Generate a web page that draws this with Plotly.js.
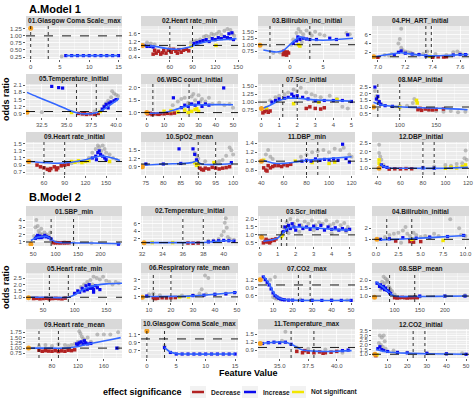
<!DOCTYPE html>
<html><head><meta charset="utf-8">
<script src="https://cdn.plot.ly/plotly-3.0.1.min.js"></script>
<style>html,body{margin:0;padding:0;background:#fff}#chart{width:474px;height:399px}</style>
</head><body><div id="chart"></div>
<script>
// ---------------- DATA ----------------
const panelTitles = [
  "01.Glasgow Coma Scale_max","02.Heart rate_min","03.Bilirubin_inc_initial","04.PH_ART_initial",
  "05.Temperature_initial","06.WBC count_initial","07.Scr_initial","08.MAP_initial",
  "09.Heart rate_initial","10.SpO2_mean","11.DBP_min","12.DBP_initial",
  "01.SBP_min","02.Temperature_initial","03.Scr_initial","04.Billrubin_initial",
  "05.Heart rate_min","06.Respiratory rate_mean","07.CO2_max","08.SBP_mean",
  "09.Heart rate_mean","10.Glasgow Coma Scale_max","11.Temperature_max","12.CO2_initial"
];
const xTickLabels = [
  ["0","5","10","15"],["60","90","120","150"],["0","5"],["7.0","7.2","7.4","7.6"],
  ["32.5","35.0","37.5","40.0"],["0","10","20","30","40","50"],["0","1","2","3","4","5"],["100","150"],
  ["60","90","120","150"],["75","80","85","90","95","100"],["40","60","80","100","120"],["40","60","80","100","120"],
  ["50","100","150","200","250"],["32","34","36","38","40"],["0","1","2","3","4","5"],["0.0","2.5","5.0","7.5","10.0"],
  ["50","100","150"],["10","20","30","40","50"],["10","20","30","40","50"],["100","150","200","250"],
  ["80","120","160"],["0","5","10","15"],["35.0","37.5","40.0"],["10","20","30","40","50"]
];
const yTickLabels = [
  ["0.25","0.50","0.75","1.00","1.25"],["0.4","0.8","1.2","1.6"],["0.75","1.00","1.25","1.50"],["2","4","6"],
  ["0.9","1.2","1.5","1.8","2.1"],["1.0","1.5","2.0"],["0.75","1.00","1.25","1.50"],["0.5","1.0","1.5","2.0","2.5"],
  ["0.7","0.9","1.1","1.3","1.5"],["0.9","1.2","1.5"],["0.8","1.0","1.2","1.4"],["1.0","1.5","2.0","2.5"],
  ["1","2","3","4"],["2","4","6"],["0.5","1.0","1.5","2.0"],["1","2"],
  ["1.0","1.5","2.0","2.5"],["1","2","3"],["0.6","0.9","1.2"],["1.0","1.5","2.0"],
  ["0.75","1.00","1.25","1.50","1.75"],["0.7","0.9","1.1"],["0.9","1.2","1.5"],["1.0","1.5","2.0","2.5","3.0","3.5"]
];
const xRanges = [
  [-0.8,15.6],[22,150],[-4.8,9.8],[6.957,7.665],
  [30.9,40.6],[-3.4,52.9],[-0.17,5.2],[62,195],
  [34,173],[73.6,101.4],[37,123],[34.7,121],
  [34,248],[31.9,41.4],[-0.1,5.3],[-0.45,10.4],
  [23,175],[6.4,50.5],[2.3,52],[55,248],
  [40,188],[-1,15.5],[33.1,41.6],[2,51.5]
];
const yRanges = [
  [0.18,1.35],[0.3,2.0],[0.45,1.72],[0.5,7.9],
  [0.77,2.15],[0.82,2.16],[0.53,1.57],[0.25,2.73],
  [0.62,1.55],[0.6,1.8],[0.69,1.43],[0.6,2.56],
  [0.45,4.55],[0.1,8.1],[0.3,2.19],[0.4,3.1],
  [0.63,2.9],[0.4,3.8],[0.36,1.45],[0.63,2.44],
  [0.53,1.91],[0.52,1.25],[0.6,1.7],[0.6,3.7]
];
const thresholds = [
  [0,3],[60,90],[-3,3],[7.35,7.39],
  [36,38],[3.5,24.5],[1.2,2.0],[70,100],
  [60,90],[90,95],[80,90],[80,90],
  [90,140],[36,38],[1.2,1.5],[1.2,4],
  [60,90],[12,20],[23,29],[90,140],
  [60,90],[0,3],[36,38],[23,29]
];

// G = raw points (grey), D = decrease, I = increase, N = not significant, S = smooth fit, M = missing-value point
const p01G=[[5.3,0.27]], p01D=[], p01I=[[6,0.3],[7,0.3],[8,0.3],[9,0.3],[10,0.3],[11,0.3],[12,0.3],[13,0.3],[14,0.3],[15,0.3]], p01N=[], p01S=[[6,0.3],[10,0.3],[15,0.3]], p01M=[[0,1.27]];

const p02G=[[95,1.25],[100,1.3],[105,1.45],[108,1.5],[112,1.45],[115,1.6],[118,1.55],[122,1.6],[125,1.7],[128,1.55],[132,1.75],[136,1.85],[140,1.8],[143,1.6],[145,1.5],[30,1.15],[35,1.1],[40,1.05],[88,1.15],[92,1.2],[120,1.3]];
const p02D=[[38,0.55],[42,0.6],[45,0.7],[48,0.55],[52,0.75],[55,0.6],[58,0.75],[62,0.65],[65,0.8],[68,0.7],[72,0.78],[75,0.65],[78,0.75],[82,0.8],[85,0.72],[40,0.75],[50,0.62],[60,0.8],[70,0.6]];
const p02I=[[26,1.0],[30,0.95],[34,0.95],[38,0.92],[92,1.1],[96,1.15],[100,1.2],[104,1.25],[108,1.3],[112,1.2],[116,1.35],[120,1.3],[124,1.4],[128,1.35],[132,1.45],[136,1.4],[140,1.35],[144,1.3],[138,1.6],[142,1.65]];
const p02N=[[121,1.0],[88,0.95]], p02S=[[24,1.0],[40,0.95],[55,0.85],[70,0.8],[85,0.9],[95,1.05],[110,1.2],[125,1.28],[140,1.32],[148,1.35]], p02M=[[24,1.0]];

const p03G=[[1,1.45],[1.3,1.6],[1.6,1.5],[2,1.4],[2.5,1.55],[3,1.45],[3.3,1.35],[3.8,1.5],[4.5,1.4],[5.2,1.35],[8.5,1.45],[9,1.4],[-1.5,0.7],[-2.5,0.68],[0.5,1.2],[1.8,1.1],[0.2,1.0]];
const p03D=[[-1,0.62],[-0.8,0.7],[-0.6,0.65],[-0.4,0.72],[-0.2,0.68],[-0.9,0.75],[-0.5,0.6]];
const p03I=[[0.5,1.05],[1,1.15],[1.5,1.2],[2,1.25],[1.2,1.3],[2.5,1.22],[3,1.2],[4,1.2],[6,1.25],[7,1.2],[8.7,1.38]];
const p03N=[[1.5,0.95],[1.3,1.0]], p03S=[[-4,0.8],[-3,0.75],[-2,0.72],[-1,0.78],[0,1.0],[1,1.22],[1.5,1.3],[2.5,1.22],[4,1.18],[6,1.18],[8,1.22],[9.5,1.25]], p03M=[[-4.5,0.98]];

const p04G=[[7.17,7.3],[7.16,5.0],[7.15,4.0],[7.17,3.0],[7.18,2.5],[7.2,2.2],[7.22,2.0],[7.24,1.9],[7.26,1.6],[7.3,1.5],[7.33,1.7],[7.36,2.2],[7.42,1.6],[7.5,1.4],[7.55,2.0],[7.58,2.2],[7.6,1.8],[7.62,1.5],[7.1,1.6],[7.05,1.4],[7.08,1.3]];
const p04D=[[7.4,0.9],[7.44,1.0],[7.48,0.95],[7.5,1.0],[7.0,0.8]];
const p04I=[[7.12,1.5],[7.15,2.0],[7.17,2.3],[7.2,1.8],[7.25,1.6],[7.3,1.5],[7.35,1.2],[7.55,1.4],[7.6,1.5],[7.64,1.5]];
const p04N=[[7.38,1.1]], p04S=[[6.97,1.0],[7.05,1.4],[7.12,1.7],[7.17,1.9],[7.22,1.7],[7.3,1.4],[7.4,1.2],[7.5,1.3],[7.6,1.45],[7.66,1.5]], p04M=[[6.97,1.0]];

const p05G=[[39.2,1.45],[39.5,1.6],[39.8,1.75],[40,1.7],[40.2,1.65],[39,1.35],[38.8,1.25],[39.6,1.85],[32.5,0.97],[37.8,1.0]];
const p05D=[[36.2,0.92],[36.6,0.9],[37,0.88],[37.4,0.9],[37.8,0.88],[38.2,0.92],[36.8,0.93]];
const p05I=[[33.5,2.05],[34.2,2.0],[34.6,1.98],[38.8,1.2],[39,1.3],[39.3,1.35],[39.5,1.4],[39.8,1.45],[40,1.5],[39.2,1.15],[38.6,1.1]];
const p05N=[[35.5,0.96],[38.4,1.0]], p05S=[[31,1.8],[32,1.62],[33,1.45],[34,1.28],[35,1.1],[36,0.95],[37,0.9],[38,0.95],[39,1.15],[40,1.45],[40.3,1.55]], p05M=[[31,0.97]];

const p06G=[[15,1.3],[18,1.45],[20,1.55],[22,1.6],[24,1.4],[26,1.65],[28,1.5],[30,1.7],[32,1.55],[34,1.45],[36,1.6],[38,1.35],[42,1.4],[45,1.3],[48,1.35],[50,1.2],[27,1.75],[31,1.45]];
const p06D=[[0.5,0.95],[2,0.97],[4,0.95],[6,0.94],[8,0.96],[10,0.95],[12,0.97],[14,0.96],[16,0.98],[3,0.92],[7,0.93]];
const p06I=[[15.4,1.6],[20,1.2],[22,1.3],[24,1.25],[26,1.35],[28,1.3],[30,1.4],[32,1.25],[34,1.35],[36,1.3],[44.6,2.0]];
const p06N=[[10,1.05],[14,1.08],[18,1.02],[22,1.1],[26,1.05],[28,1.12],[30,1.05],[24,1.0],[29,1.15]], p06S=[[0,0.97],[10,1.0],[18,1.15],[25,1.3],[35,1.32],[50,1.32]], p06M=[[0,1.0]];

const p07G=[[0.8,1.15],[1,1.2],[1.3,1.25],[1.5,1.3],[1.8,1.4],[2,1.35],[2.2,1.45],[2.5,1.3],[3,1.2],[3.3,1.15],[3.8,1.2],[4.2,1.1],[4.5,0.85],[4.8,0.8],[2.8,1.25],[0.5,1.05]];
const p07D=[[0.2,0.7],[0.3,0.75],[0.4,0.68],[0.5,0.72],[2.5,0.8],[2.7,0.85],[3,0.8],[3.3,0.78],[3.5,0.82],[0.1,0.66]];
const p07I=[[0.6,1.0],[0.8,1.05],[1,1.1],[1.3,1.12],[1.5,1.15],[1.8,1.18],[2,1.2],[2.3,1.15],[2.6,1.1],[3,1.05],[3.5,1.05],[4,1.05],[4.5,1.05],[5,1.02],[1.7,1.25]];
const p07N=[[0.3,0.82],[1.8,0.95],[3.2,1.0],[4.2,1.08]], p07S=[[0,0.78],[0.5,0.9],[1,1.05],[1.5,1.12],[2,1.12],[3,1.07],[4,1.05],[5,1.03]], p07M=[[0.02,0.8]];

const p08G=[[66,2.2],[68,1.8],[70,1.5],[72,1.3],[75,1.2],[120,1.6],[118,1.3],[150,0.7],[160,0.65],[170,0.7],[180,0.6],[190,0.65],[140,0.75],[100,1.05],[110,1.1]];
const p08D=[[125,0.8],[130,0.75],[135,0.85],[140,0.8],[145,0.78],[150,0.82],[128,0.9],[160,0.85]];
const p08I=[[66,2.5],[68,1.6],[70,1.8],[72,1.4],[74,1.2],[80,1.1],[90,1.05]];
const p08N=[[123,1.5],[124,1.3],[100,1.0]], p08S=[[64,1.35],[75,1.15],[100,1.02],[130,0.95],[160,0.9],[193,0.8]], p08M=[[64,1.0]];

const p09G=[[130,1.25],[135,1.35],[138,1.45],[140,1.4],[143,1.3],[145,1.45],[148,1.35],[150,1.25],[155,1.2],[160,1.1],[165,1.05],[125,1.1],[100,0.95],[110,1.0]];
const p09D=[[50,0.9],[55,0.85],[60,0.82],[65,0.78],[70,0.8],[75,0.85],[80,0.82],[85,0.88],[90,0.9],[95,0.92],[68,0.75],[78,0.77]];
const p09I=[[130,1.1],[135,1.15],[138,1.25],[140,1.3],[142,1.2],[145,1.15],[148,1.1],[150,1.05],[136,1.05]];
const p09N=[[100,1.0],[105,0.98],[110,1.02],[115,0.97],[120,1.0],[125,1.02],[155,1.0]], p09S=[[38,1.0],[60,0.97],[80,0.95],[100,0.98],[120,1.05],[140,1.15],[155,1.12],[170,1.03]], p09M=[[38,1.0]];

const p10G=[[89,1.4],[89.5,1.3],[90,1.2],[99,1.6],[99.5,1.5],[100,1.35],[98,1.3],[97,1.15],[96,1.1],[95,1.05],[92,1.1]];
const p10D=[[90.5,0.85],[91,0.8],[92,0.85],[93,0.82],[94,0.88],[95,0.85],[96,0.82],[97,0.85],[98,0.87],[99,0.9],[91.5,0.78]];
const p10I=[[84.5,1.55],[88.5,1.55],[89,1.35],[89.5,1.15],[75,1.0],[80,1.0],[85,1.02],[99.5,1.05]];
const p10N=[[89,1.05],[89.5,0.95],[90,1.0],[94.5,1.05]], p10S=[[74,0.95],[80,1.0],[85,1.02],[88,1.05],[89.5,1.1],[91,1.0],[95,0.98],[100,1.02]], p10M=[[74,0.9]];

const p11G=[[44,1.15],[46,1.25],[48,1.1],[50,1.05],[75,1.1],[80,1.15],[85,1.2],[90,1.22],[95,1.25],[100,1.2],[105,1.28],[110,1.25],[113,1.3],[118,1.15],[120,1.1]];
const p11D=[[42,0.85],[44,0.8],[46,0.9],[48,0.85],[50,0.88],[52,0.9],[55,0.9],[58,0.88],[60,0.92],[63,0.9],[66,0.93],[45,0.78]];
const p11I=[[76,1.0],[80,1.02],[84,1.0],[88,1.05],[92,1.02],[96,1.04],[100,1.03],[104,1.05],[108,1.02],[112,1.38],[115,1.06],[118,0.98]];
const p11N=[[42,1.02],[70,1.0],[85,0.97],[100,0.95],[105,0.98]], p11S=[[40,1.03],[50,0.96],[60,0.95],[70,0.98],[80,1.02],[100,1.06],[120,1.1]], p11M=[[40,1.0]];

const p12G=[[41,2.4],[41,1.9],[42,1.7],[43,1.5],[45,1.2],[100,1.2],[105,1.15],[110,1.25],[115,1.3],[117,1.6],[118,2.05],[119,1.5],[80,1.05],[90,1.1]];
const p12D=[[50,0.95],[55,0.97],[60,0.96],[65,0.98],[70,0.97]];
const p12I=[[43,1.2],[45,1.1],[48,1.05],[80,1.02],[90,1.0]];
const p12N=[[41,1.5],[41,1.3],[42,1.15],[100,1.0],[105,1.05],[110,1.02],[115,1.1],[118,1.2]], p12S=[[42,1.25],[45,1.1],[50,1.02],[70,1.0],[100,1.0],[120,1.05]], p12M=[[41,1.0]];

const p13G=[[57,4.0],[55,3.0],[60,3.2],[62,2.5],[65,2.2],[68,2.8],[70,2.0],[75,2.3],[80,2.0],[85,1.8],[88,2.3],[52,1.8],[100,1.0],[120,0.95],[140,0.9],[180,0.85]];
const p13D=[[95,0.9],[100,0.88],[105,0.9],[110,0.87],[115,0.9],[120,0.88],[125,0.9],[130,0.9]];
const p13I=[[55,1.5],[58,1.7],[60,1.9],[62,1.6],[65,1.8],[68,1.6],[72,1.7],[76,1.9],[80,1.7],[85,1.6],[90,1.4],[240,0.7]];
const p13N=[], p13S=[[45,1.2],[55,1.55],[65,1.7],[80,1.75],[90,1.4],[100,1.0],[130,0.9],[180,0.85],[245,0.75]], p13M=[[45,0.7]];

const p14G=[[40.2,7.5],[40.1,6.3],[40.3,5.0],[40,4.0],[39.8,3.0],[40.4,2.5],[39.5,2.0],[39,1.6],[38.5,1.5],[40.6,2.0],[41,1.8]];
const p14D=[[36.5,0.9],[37,0.85],[37.5,0.9]];
const p14I=[[38.5,1.2],[39,1.4],[39.5,1.5],[40,1.6],[40.5,1.5],[41,1.4]];
const p14N=[[33,1.0],[35,1.0]], p14S=[[32.2,1.0],[34,1.0],[36,1.0],[38,1.05],[39,1.25],[40,1.5],[41,1.5]], p14M=[[32.2,1.0]];

const p15G=[[1.3,1.5],[1.5,1.8],[1.7,2.0],[1.9,1.7],[2.1,1.9],[2.3,1.6],[2.5,1.85],[2.7,1.7],[2.9,1.9],[3.1,1.6],[3.3,1.8],[3.5,1.7],[3.7,1.9],[3.9,1.6],[4.1,1.7],[4.3,1.85],[4.5,1.6],[4.7,1.75],[4.9,1.5],[1.6,1.1],[2.2,1.2],[3,1.3],[4,1.1],[4.8,1.2],[1.4,1.3]];
const p15D=[[0.2,0.5],[0.3,0.6],[0.4,0.55],[0.5,0.65],[0.6,0.6],[0.7,0.7],[0.8,0.65],[0.9,0.75],[0.35,0.72],[0.55,0.5]];
const p15I=[[1.3,1.2],[1.4,1.5],[1.5,1.3],[1.6,1.6],[1.7,1.4],[1.8,1.7],[1.9,1.5],[2,1.3],[2.2,1.6],[2.4,1.4],[2.6,1.5],[2.8,1.35],[3,1.55],[3.2,1.4],[3.4,1.6],[3.6,1.3],[3.8,1.5],[4,1.35],[4.2,1.45],[4.4,1.3],[4.6,1.4],[4.8,1.3],[5,1.35]];
const p15N=[[1.2,0.9],[1.25,1.0]], p15S=[[0.2,0.6],[0.5,0.65],[1,0.8],[1.3,1.15],[1.6,1.45],[2,1.5],[3,1.45],[4,1.35],[5,1.3]], p15M=[[0.1,0.85]];

const p16G=[[1,1.2],[1.5,1.4],[2,1.5],[2.5,1.6],[3,1.8],[3.3,2.1],[3.5,1.5],[3.8,1.3],[4.2,1.6],[4.5,1.4],[5,1.2],[5.5,1.3],[6,1.2],[6.5,1.5],[7,1.3],[8.3,2.8],[9.3,2.0],[9.5,1.4],[10,1.3],[2.8,0.7]];
const p16D=[[3.8,0.8],[4.2,0.75],[5,0.8],[2.2,0.85]];
const p16I=[[0.5,1.0],[1.5,1.05],[3,1.15],[4.5,1.1],[6,1.2],[8,1.25],[9.8,1.35]];
const p16N=[[4,1.0],[7.5,0.9]], p16S=[[0.1,0.95],[2,1.0],[4,1.07],[6,1.15],[8,1.25],[10,1.35]], p16M=[[0.1,1.0]];

const p17G=[[110,1.8],[115,2.0],[120,2.2],[125,2.35],[130,2.6],[135,2.5],[140,2.4],[145,2.6],[150,2.3],[155,2.2],[160,2.0],[165,2.2],[170,2.1],[118,1.6],[128,2.0],[100,1.3]];
const p17D=[[35,0.9],[40,0.92],[45,0.88],[50,0.9],[55,0.92],[60,0.88],[65,0.9],[70,0.92],[75,0.9],[80,0.88],[85,0.93]];
const p17I=[[100,1.3],[105,1.5],[108,1.4],[112,1.7],[115,1.5],[118,1.9],[120,1.6],[123,2.0],[125,1.7],[128,1.8],[130,1.6],[133,1.9],[136,1.75],[140,1.6],[130,1.4]];
const p17N=[], p17S=[[27,1.0],[50,1.0],[90,1.0],[100,1.2],[110,1.5],[120,1.75],[135,1.95],[150,2.05],[175,2.1]], p17M=[[27,0.97]];

const p18G=[[35.5,3.5],[37,3.2],[34,1.9],[33,1.4],[36,1.3],[30,1.2],[25,1.15],[40,1.3],[45,1.4],[10,1.3],[12,1.4],[15,1.2]];
const p18D=[[12,0.9],[14,0.85],[16,0.9],[18,0.88],[20,0.9],[22,0.92],[13,0.8]];
const p18I=[[30,1.15],[35,1.2],[40,1.3],[45,1.35],[49,1.5],[9,1.1]];
const p18N=[[24,1.0],[28,1.0]], p18S=[[8,1.05],[15,1.05],[25,1.08],[30,1.12],[40,1.3],[50,1.55]], p18M=[[7,0.95]];

const p19G=[[11,1.3],[8.5,1.2],[10,0.55],[11,0.5],[12,0.48],[13,0.5],[14,0.45],[24,0.45],[30,0.44],[40,0.44],[48,0.43]];
const p19D=[];
const p19I=[[5,1.3],[6,1.2],[7,1.1],[8,1.0],[9,0.85],[10,0.7],[11,0.6],[12,0.55],[13,0.5],[14,0.47],[15,0.45],[16,0.44],[18,0.43],[20,0.43],[25,0.42],[30,0.42],[35,0.42],[40,0.42],[45,0.42],[50,0.42]];
const p19N=[], p19S=[[5,1.35],[8,1.05],[10,0.75],[12,0.55],[15,0.46],[20,0.43],[50,0.42]], p19M=[[3.5,1.2]];

const p20G=[[70,1.7],[75,1.9],[78,2.2],[80,1.8],[82,2.1],[85,2.0],[88,1.6],[90,1.5],[92,1.4],[95,1.3],[72,1.4],[86,1.9],[100,1.1],[150,0.95],[200,1.0],[240,1.05]];
const p20D=[[100,0.9],[105,0.88],[110,0.9],[115,0.92],[120,0.9],[125,0.88],[130,0.9],[135,0.9],[140,0.92],[145,0.9]];
const p20I=[[65,1.8],[70,1.6],[72,1.7],[75,1.5],[78,1.6],[80,1.4],[82,1.5],[85,1.35],[88,1.3],[90,1.2],[92,1.15],[150,1.0],[200,1.0],[240,1.0]];
const p20N=[], p20S=[[62,1.9],[75,1.6],[90,1.2],[100,1.0],[130,0.97],[180,0.98],[245,1.0]], p20M=[[60,0.93]];

const p21G=[[60,1.1],[70,1.15],[80,1.1],[90,1.2],[100,1.15],[105,1.1],[110,1.15],[115,1.2],[120,1.3],[122,1.8],[124,1.7],[126,1.55],[128,1.45],[130,1.4],[135,1.5],[140,1.3],[150,1.65],[160,1.65],[170,1.65],[182,1.75],[182,1.0],[125,1.2]];
const p21D=[[60,0.9],[65,0.85],[70,0.88],[75,0.86],[80,0.85],[85,0.88],[90,0.84],[95,0.87],[100,0.85],[105,0.9],[110,0.88],[115,0.92]];
const p21I=[[118,1.2],[120,1.15],[122,1.25],[125,1.3],[128,1.2],[130,1.35],[132,1.25],[135,1.2],[140,1.22],[180,1.0]];
const p21N=[], p21S=[[44,1.0],[70,1.0],[100,1.0],[115,1.05],[130,1.15],[150,1.28],[170,1.4],[186,1.5]], p21M=[[44,1.0]];

const p22G=[[3,0.82]], p22D=[];
const p22I=[[3,0.78],[4,0.66],[5,0.62],[6,0.62],[7,0.62],[8,0.62],[9,0.62],[10,0.62],[11,0.62],[12,0.62],[13,0.62],[14,0.62],[15,0.62]];
const p22N=[], p22S=[[3,0.78],[4,0.67],[5,0.63],[6,0.62],[15,0.62]], p22M=[[0,1.2]];

const p23G=[[35.5,1.6],[35.2,1.25],[36.5,1.0],[37.5,0.95],[39,0.92],[40.5,0.8]];
const p23D=[[36.5,0.85],[37,0.8],[37.5,0.82],[38,0.8],[38.5,0.83],[39,0.8],[39.5,0.82],[40,0.85],[37.2,0.88],[38.8,0.78]];
const p23I=[[33.5,1.15],[34,1.18],[34.5,1.2],[35,1.18],[35.5,1.2],[36,1.12],[40.5,0.88],[41,0.9]];
const p23N=[], p23S=[[33.3,1.15],[34.5,1.2],[35.5,1.2],[36.2,1.08],[37,0.9],[38,0.86],[39.5,0.85],[41.3,0.88]], p23M=[[33.3,1.15]];

const p24G=[[6,3.0],[7,2.8],[8,3.0],[5.5,2.2],[6.5,2.0],[7.5,1.8],[8.5,2.4],[9,1.6],[13,1.4],[20,1.2],[30,1.1],[40,1.05],[48,1.1]];
const p24D=[[4,0.85]];
const p24I=[[5,1.6],[6,1.8],[7,1.5],[8,1.4],[10,1.3],[15,1.2],[20,1.15],[30,1.1],[40,1.05],[50,1.0]];
const p24N=[[4.5,0.95]], p24S=[[4,1.5],[6,1.4],[10,1.25],[20,1.12],[30,1.06],[50,1.0]], p24M=[[3.5,1.0]];

const sectionTitles = ["A.Model 1","B.Model 2"];
const legendTitle = "effect significance";
const legendLabels = ["Decrease","Increase","Not significant"];

// ---------------- BUILD ----------------
const panelData = [
  [p01G,p01D,p01I,p01N,p01S,p01M],[p02G,p02D,p02I,p02N,p02S,p02M],[p03G,p03D,p03I,p03N,p03S,p03M],[p04G,p04D,p04I,p04N,p04S,p04M],
  [p05G,p05D,p05I,p05N,p05S,p05M],[p06G,p06D,p06I,p06N,p06S,p06M],[p07G,p07D,p07I,p07N,p07S,p07M],[p08G,p08D,p08I,p08N,p08S,p08M],
  [p09G,p09D,p09I,p09N,p09S,p09M],[p10G,p10D,p10I,p10N,p10S,p10M],[p11G,p11D,p11I,p11N,p11S,p11M],[p12G,p12D,p12I,p12N,p12S,p12M],
  [p13G,p13D,p13I,p13N,p13S,p13M],[p14G,p14D,p14I,p14N,p14S,p14M],[p15G,p15D,p15I,p15N,p15S,p15M],[p16G,p16D,p16I,p16N,p16S,p16M],
  [p17G,p17D,p17I,p17N,p17S,p17M],[p18G,p18D,p18I,p18N,p18S,p18M],[p19G,p19D,p19I,p19N,p19S,p19M],[p20G,p20D,p20I,p20N,p20S,p20M],
  [p21G,p21D,p21I,p21N,p21S,p21M],[p22G,p22D,p22I,p22N,p22S,p22M],[p23G,p23D,p23I,p23N,p23S,p23M],[p24G,p24D,p24I,p24N,p24S,p24M]
];

const W = 474, H = 399;
const FONT = 'Liberation Sans, Arial, Helvetica, sans-serif';
const colsPx = [[26,122],[141,238],[258,355],[372,469]];
const rowsPx = [[26,59],[84,117],[142,175],[216,246],[273,302],[329,358]];
const stripH = 10;
const COL = {dec:'#b22222', inc:'#0a0aee', ns:'#f2e600', smooth:'#3366ff', miss:'#f5a020', gray:'rgba(150,150,150,0.6)'};

const px = v => v / W, py = v => 1 - v / H;
const xs = pts => pts.map(p => p[0]), ys = pts => pts.map(p => p[1]);
function minorVals(t) {
  if (t.length < 2) return [];
  const s = t[1] - t[0], out = [t[0] - s/2];
  for (let i = 0; i < t.length - 1; i++) out.push((t[i] + t[i+1]) / 2);
  out.push(t[t.length-1] + s/2);
  return out;
}

const traces = [], shapes = [], annotations = [];
const layout = {
  width: W, height: H, margin: {l:0, r:0, t:0, b:0},
  paper_bgcolor: '#ffffff', plot_bgcolor: '#ebebeb',
  showlegend: false, font: {family: FONT, color: '#1a1a1a'}
};

panelData.forEach((d, i) => {
  const r = Math.floor(i / 4), c = i % 4;
  const n = i === 0 ? '' : String(i + 1);
  const xa = 'x' + n, ya = 'y' + n;
  const [c0, c1] = colsPx[c], [r0, r1] = rowsPx[r];
  const xt = xTickLabels[i].map(parseFloat), yt = yTickLabels[i].map(parseFloat);
  const axCommon = {
    tickmode: 'array', ticks: 'outside', ticklen: 2, tickwidth: 0.8, tickcolor: '#333',
    tickfont: {size: 6, color: '#4d4d4d', family: FONT},
    showgrid: true, gridcolor: '#ffffff', gridwidth: 0.8, zeroline: false, showline: false, fixedrange: true
  };
  layout['xaxis' + n] = Object.assign({}, axCommon, {
    domain: [px(c0), px(c1)], range: xRanges[i], anchor: ya,
    tickvals: xt, ticktext: xTickLabels[i],
    minor: {tickmode: 'array', tickvals: minorVals(xt), showgrid: true, gridcolor: '#ffffff', gridwidth: 0.4}
  });
  layout['yaxis' + n] = Object.assign({}, axCommon, {
    domain: [py(r1), py(r0)], range: yRanges[i], anchor: xa,
    tickvals: yt, ticktext: yTickLabels[i],
    minor: {tickmode: 'array', tickvals: minorVals(yt), showgrid: true, gridcolor: '#ffffff', gridwidth: 0.4}
  });

  const [G, D, I, N, S, M] = d;
  traces.push({type:'scatter', mode:'markers', x: xs(G), y: ys(G), xaxis: xa, yaxis: ya,
    marker: {size: 4, color: COL.gray, line: {width: 0}}, hoverinfo: 'skip'});
  traces.push({type:'scatter', mode:'markers', x: xs(D), y: ys(D), xaxis: xa, yaxis: ya,
    marker: {size: 3.5, symbol: 'square', color: COL.dec}, hoverinfo: 'skip'});
  traces.push({type:'scatter', mode:'markers', x: xs(N), y: ys(N), xaxis: xa, yaxis: ya,
    marker: {size: 3.5, symbol: 'square', color: COL.ns}, hoverinfo: 'skip'});
  traces.push({type:'scatter', mode:'markers', x: xs(I), y: ys(I), xaxis: xa, yaxis: ya,
    marker: {size: 3.2, symbol: 'square', color: COL.inc}, hoverinfo: 'skip'});
  traces.push({type:'scatter', mode:'lines', x: xs(S), y: ys(S), xaxis: xa, yaxis: ya,
    line: {color: COL.smooth, width: 1.6, shape: 'spline', smoothing: 0.8}, hoverinfo: 'skip'});
  traces.push({type:'scatter', mode:'markers', x: xs(M), y: ys(M), xaxis: xa, yaxis: ya,
    marker: {size: 5, color: COL.miss}, hoverinfo: 'skip'});

  // reference line at odds ratio 1
  shapes.push({type:'line', xref: xa + ' domain', yref: ya, x0: 0, x1: 1, y0: 1, y1: 1,
    line: {color: '#000', width: 0.9, dash: 'dash'}});
  thresholds[i].forEach(v => shapes.push({type:'line', xref: xa, yref: ya + ' domain', x0: v, x1: v, y0: 0, y1: 1,
    line: {color: '#000', width: 0.8, dash: 'dot'}}));
  // facet strip
  shapes.push({type:'rect', xref:'paper', yref:'paper', x0: px(c0), x1: px(c1), y0: py(r0), y1: py(r0 - stripH),
    fillcolor: '#d9d9d9', line: {width: 0}, layer: 'below'});
  annotations.push({text: '<b>' + panelTitles[i] + '</b>', xref:'paper', yref:'paper',
    x: px((c0 + c1) / 2), y: py(r0 - stripH / 2), xanchor:'center', yanchor:'middle', showarrow:false,
    font: {size: 6.6, color: '#1a1a1a', family: FONT}});
});

// section titles
[[27, 9], [27, 197]].forEach((p, k) => annotations.push({text: '<b>' + sectionTitles[k] + '</b>', xref:'paper', yref:'paper',
  x: px(p[0]), y: py(p[1]), xanchor:'left', yanchor:'middle', showarrow:false, font: {size: 11, color:'#000', family: FONT}}));
// y titles
[99, 287].forEach(yc => annotations.push({text: '<b>odds ratio</b>', xref:'paper', yref:'paper', x: px(6), y: py(yc),
  textangle: -90, xanchor:'center', yanchor:'middle', showarrow:false, font: {size: 9, color:'#000', family: FONT}}));
// x title
annotations.push({text: '<b>Feature Value</b>', xref:'paper', yref:'paper', x: px(248), y: py(373),
  xanchor:'center', yanchor:'middle', showarrow:false, font: {size: 9, color:'#000', family: FONT}});
// legend
const LY = 392;
annotations.push({text: '<b>' + legendTitle + '</b>', xref:'paper', yref:'paper', x: px(184), y: py(LY),
  xanchor:'right', yanchor:'middle', showarrow:false, font: {size: 9, color:'#000', family: FONT}});
const legCols = [COL.dec, COL.inc, COL.ns];
const legX = [190, 242, 290];
legendLabels.forEach((lab, k) => {
  const x0 = legX[k];
  shapes.push({type:'rect', xref:'paper', yref:'paper', x0: px(x0), x1: px(x0 + 16), y0: py(LY + 6), y1: py(LY - 6),
    fillcolor: '#f2f2f2', line: {width: 0}});
  shapes.push({type:'line', xref:'paper', yref:'paper', x0: px(x0 + 2), x1: px(x0 + 14), y0: py(LY), y1: py(LY),
    line: {color: legCols[k], width: 2.5}});
  annotations.push({text: '<b>' + lab + '</b>', xref:'paper', yref:'paper', x: px(x0 + 19), y: py(LY),
    xanchor:'left', yanchor:'middle', showarrow:false, font: {size: 6.6, color: '#1a1a1a', family: FONT}});
});

layout.shapes = shapes;
layout.annotations = annotations;
Plotly.newPlot('chart', traces, layout, {staticPlot: true, displayModeBar: false});
</script>
</body></html>
